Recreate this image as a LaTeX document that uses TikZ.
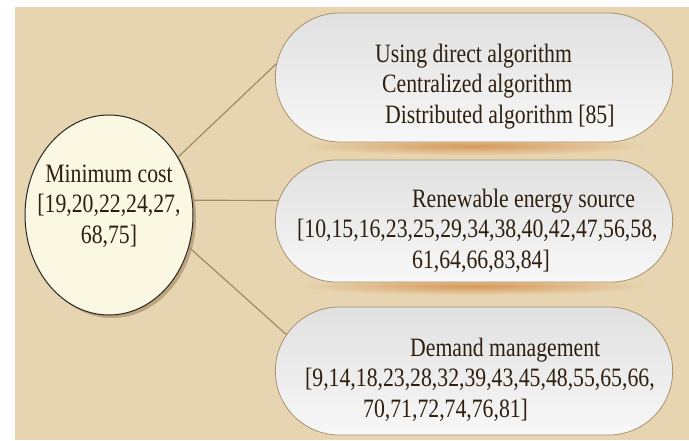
\documentclass[tikz,border=0pt]{standalone}
\usepackage{fontspec}
\setmainfont{Liberation Serif}[FakeStretch=0.82]
\usetikzlibrary{shapes.geometric,shapes.misc,shadows}
\definecolor{tanbg}{HTML}{E6D5B0}
\definecolor{boxline}{HTML}{A8916F}
\definecolor{linkcol}{HTML}{A08A6C}
\definecolor{ovalfill}{HTML}{FAF8E3}
\definecolor{glow}{HTML}{D8985A}
\definecolor{inkcol}{HTML}{2E1E0E}
\begin{document}
\begin{tikzpicture}[x=1pt,y=-1pt,
 txt/.style={inner sep=0pt, text=inkcol, font=\fontsize{26.5}{30.5}\selectfont},
 pill/.style={rounded rectangle, draw=boxline, line width=0.8pt, top color=gray!24, bottom color=gray!6, minimum width=404pt},
 link/.style={draw=linkcol, line width=1.2pt}]
 \useasboundingbox (0,0) rectangle (689,440);
 \fill[tanbg] (15,7) rectangle (689,440);
 % orange glow under the pills
 \shade[inner color=glow, outer color=tanbg] (474,146) ellipse (175 and 9);
 \shade[inner color=glow, outer color=tanbg] (474,286) ellipse (175 and 9);
 \node[pill, minimum height=129pt] (b1) at (474,77.5) {};
 \node[pill, minimum height=122pt] (b2) at (474,221) {};
 \node[pill, minimum height=128pt] (b3) at (474,371) {};
 \node[ellipse, draw=black!85, line width=1pt, fill=ovalfill, minimum width=168pt, minimum height=200pt,
  drop shadow={shadow xshift=3pt, shadow yshift=-3pt, fill=brown!60!black, opacity=0.35}] (cost) at (109,215) {};
 \draw[link] (cost.40) -- (b1.176);
 \draw[link] (cost.10) -- (b2.174);
 \draw[link] (cost.-22) -- (b3.169);
 % texts (anchored on the baseline of their last line)
 \node[txt, align=center, anchor=base] (costtxt) at (109,243) {Minimum cost\\{}[19,20,22,24,27,\\68,75]};
 \node[txt, align=left, anchor=base west] (t1) at (375,123) {Using direct algorithm\\\hspace*{7pt}Centralized algorithm\\\hspace*{10pt}Distributed algorithm [85]};
 \node[txt, align=left, anchor=base west] (t2) at (297,268) {\hspace*{115pt}Renewable energy source\\{}[10,15,16,23,25,29,34,38,40,42,47,56,58,\\\hspace*{115pt}61,64,66,83,84]};
 \node[txt, align=left, anchor=base west] (t3) at (305,417) {\hspace*{105pt}Demand management\\{}[9,14,18,23,28,32,39,43,45,48,55,65,66,\\\hspace*{58pt}70,71,72,74,76,81]};
\end{tikzpicture}
\end{document}
